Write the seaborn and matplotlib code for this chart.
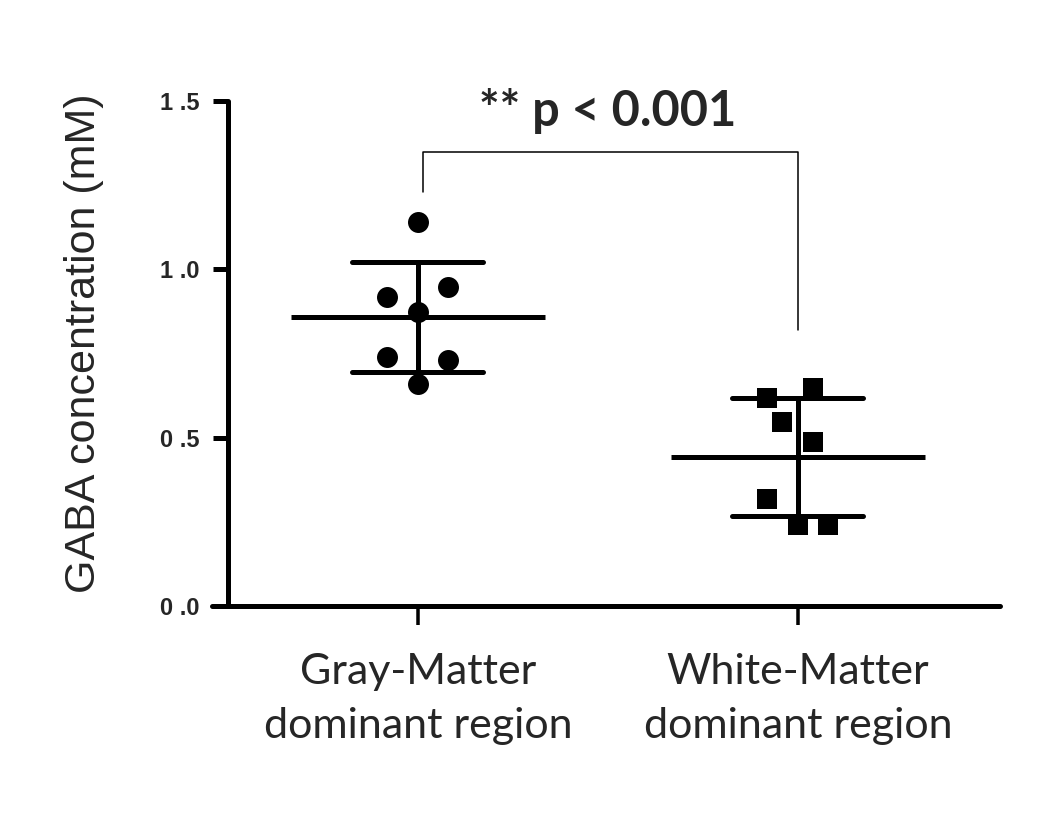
import numpy as np
import pandas as pd
import matplotlib
matplotlib.use("Agg")
import matplotlib.pyplot as plt
import seaborn as sns

# ---- data ----
categories = ["Gray-Matter\ndominant region", "White-Matter\ndominant region"]
gray_values = [1.14, 0.918, 0.947, 0.873, 0.74, 0.73, 0.66]
white_values = [0.618, 0.647, 0.546, 0.487, 0.318, 0.24, 0.24]
# horizontal spread of the dots within each column (category units)
gray_offsets = [0.0, -0.082, 0.079, 0.0, -0.082, 0.079, 0.0]
white_offsets = [-0.082, 0.04, -0.042, 0.04, -0.082, 0.0, 0.079]
ytick_values = [0.0, 0.5, 1.0, 1.5]
ytick_labels = ["0 .0", "0 .5", "1 .0", "1 .5"]
ylabel = "GABA concentration (mM)"
annotation = "** p < 0.001"

sns.set_theme(style="white")
plt.rcParams["font.family"] = ["Liberation Sans", "DejaVu Sans"]

df = pd.DataFrame({
    "group": [categories[0]] * len(gray_values) + [categories[1]] * len(white_values),
    "value": gray_values + white_values,
    "offset": gray_offsets + white_offsets,
})
df["gidx"] = df["group"].map({c: i for i, c in enumerate(categories)})
df["xpos"] = df["gidx"] + df["offset"]

fig = plt.figure(figsize=(10.44, 8.14), dpi=100)
ax = fig.add_axes([212 / 1044, 1 - 606 / 814, (1000 - 212) / 1044, (606 - 101) / 814])

LW = 3.6

# mean +/- SD error bars
sns.pointplot(data=df, x="group", y="value", order=categories, errorbar="sd",
              capsize=0.345, linestyle="none", markers="", color="black",
              err_kws={"linewidth": LW, "solid_capstyle": "round"}, ax=ax)

# mean lines
means = df.groupby("gidx")["value"].mean()
ax.hlines(means.values, means.index - 0.335, means.index + 0.335,
          colors="black", linewidth=LW, capstyle="butt", zorder=3)

# individual points
sns.scatterplot(data=df[df["gidx"] == 0], x="xpos", y="value", marker="o", s=228,
                color="black", edgecolor="black", linewidth=0, ax=ax, zorder=4)
sns.scatterplot(data=df[df["gidx"] == 1], x="xpos", y="value", marker="s", s=207,
                color="black", edgecolor="black", linewidth=0, ax=ax, zorder=4)

for side in ["top", "right"]:
    ax.spines[side].set_visible(False)
for side in ["left", "bottom"]:
    ax.spines[side].set_linewidth(LW)
    ax.spines[side].set_color("black")
    ax.spines[side].set_capstyle("round")
ax.spines["left"].set_position(("data", -0.5))

ax.set_xlim(-0.542, 1.532)
ax.set_ylim(0, 1.5)
ax.set_xticks([0, 1])
ax.set_xticklabels(categories, fontsize=31, family=["Lato", "DejaVu Sans"],
                   linespacing=1.5)
ax.set_yticks(ytick_values)
ax.set_yticklabels(ytick_labels, fontsize=17, fontweight="bold")
ax.set_xlabel("")
ax.set_ylabel(ylabel, fontsize=31)
ax.yaxis.set_label_coords((104 - 212) / 788, (606 - 343) / 505)
ax.tick_params(axis="y", length=10.8, width=LW, color="black", pad=10, left=True)
ax.tick_params(axis="x", length=14, width=LW * 0.7, color="black", pad=20, bottom=True)

# significance bracket
y_top = 1.348
ax.plot([0.013, 0.013, 1.0, 1.0], [1.23, y_top, y_top, 0.82], color="black",
        linewidth=1.1, clip_on=False, zorder=2)
ax.text(0.5, 1.47, annotation, ha="center", va="center", fontsize=35,
        fontweight="bold", family=["Lato", "DejaVu Sans"], clip_on=False)

fig.savefig("out.png", dpi=100)
